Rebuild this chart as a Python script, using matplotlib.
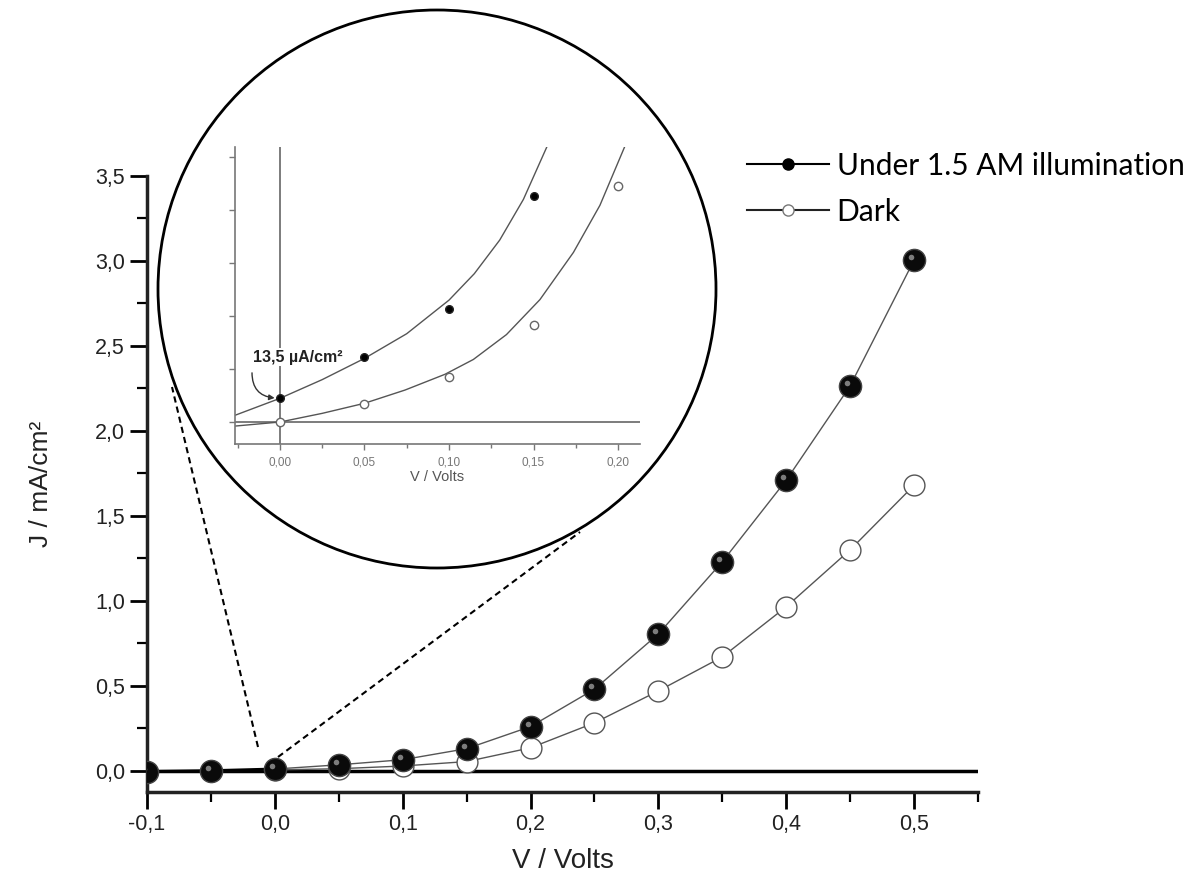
import numpy as np
import matplotlib
matplotlib.use("Agg")
import matplotlib.pyplot as plt
from matplotlib.patches import Ellipse
from matplotlib.lines import Line2D
from matplotlib.transforms import offset_copy

# main J-V data (mA/cm2)
V = [-0.10, -0.05, 0.00, 0.05, 0.10, 0.15, 0.20, 0.25, 0.30, 0.35, 0.40, 0.45, 0.50]
J_light = [-0.005, 0.0, 0.01, 0.035, 0.065, 0.13, 0.26, 0.48, 0.805, 1.23, 1.71, 2.265, 3.005]
J_dark = [-0.005, 0.0, 0.005, 0.012, 0.028, 0.054, 0.135, 0.282, 0.47, 0.67, 0.965, 1.30, 1.68]

x_ticks = [-0.1, 0.0, 0.1, 0.2, 0.3, 0.4, 0.5]
x_ticklabels = ["-0,1", "0,0", "0,1", "0,2", "0,3", "0,4", "0,5"]
y_ticks = [0.0, 0.5, 1.0, 1.5, 2.0, 2.5, 3.0, 3.5]
y_ticklabels = ["0,0", "0,5", "1,0", "1,5", "2,0", "2,5", "3,0", "3,5"]

# zoomed inset: points and fitted curves
V_in_light = [0.00, 0.05, 0.10, 0.15]
J_in_light = [0.0135, 0.0368, 0.0641, 0.128]
V_in_dark = [0.00, 0.05, 0.10, 0.15, 0.20]
J_in_dark = [0.0, 0.0102, 0.0253, 0.0549, 0.1338]

fit_light_V = [-0.0266, 0.0, 0.025, 0.05, 0.075, 0.10, 0.115, 0.130, 0.144, 0.158]
fit_light_J = [0.0038, 0.0134, 0.0240, 0.0360, 0.0500, 0.0690, 0.0840, 0.1030, 0.1260, 0.156]
fit_dark_V = [-0.0266, 0.0, 0.025, 0.05, 0.074, 0.0976, 0.1144, 0.134, 0.1538, 0.1736, 0.1893, 0.204]
fit_dark_J = [-0.0023, 0.0, 0.0049, 0.0106, 0.0181, 0.027, 0.0354, 0.0495, 0.0693, 0.096, 0.1227, 0.156]

in_x_ticks = [0.00, 0.05, 0.10, 0.15, 0.20]
in_x_ticklabels = ["0,00", "0,05", "0,10", "0,15", "0,20"]

W, H = 1196, 884
fig = plt.figure(figsize=(W / 100, H / 100), dpi=100)

def fx(px):
    return px / W

def fy(py):
    return 1 - py / H

# ---- main axes ----
ax = fig.add_axes([fx(147), fy(792), fx(978) - fx(147), fy(176) - fy(792)])
ax.set_xlim(-0.1, 0.55)
ax.set_ylim(-0.125, 3.5)
ax.axhline(0, color="black", lw=2.5, zorder=1)

ax.plot(V, J_dark, color="#555555", lw=1.0, zorder=2)
ax.plot(V, J_light, color="#555555", lw=1.0, zorder=2)
ax.plot(V[:3], J_light[:3], color="black", lw=2.2, zorder=2)

ax.plot(V, J_dark, ls="none", marker="o", ms=15, mfc="white", mec="#555555", mew=1.0, zorder=3)
ax.plot(V, J_light, ls="none", marker="o", ms=16, mfc="#0a0a0a", mec="#444444", mew=1.0, zorder=4)
hl = offset_copy(ax.transData, fig=fig, x=-3, y=3, units="dots")
ax.plot(V, J_light, ls="none", marker="o", ms=4, mfc="#9a9a9a", mec="none", alpha=0.8,
        transform=hl, zorder=5)

for s in ["top", "right"]:
    ax.spines[s].set_visible(False)
for s in ["left", "bottom"]:
    ax.spines[s].set_linewidth(2.5)
    ax.spines[s].set_color("#222222")

ax.set_xticks(x_ticks)
ax.set_xticklabels(x_ticklabels)
ax.set_xticks(np.arange(-0.1, 0.551, 0.05), minor=True)
ax.set_yticks(y_ticks)
ax.set_yticklabels(y_ticklabels)
ax.set_yticks(np.arange(0, 3.51, 0.25), minor=True)
ax.tick_params(which="major", direction="out", length=12, width=2, labelsize=15.5, pad=4)
ax.tick_params(which="minor", direction="out", length=7, width=1.6)
for lab in ax.get_xticklabels() + ax.get_yticklabels():
    lab.set_fontfamily("Liberation Sans")
    lab.set_color("#222222")

ax.set_xlabel("V / Volts", fontsize=20, family="Liberation Sans", color="#222222", labelpad=9)
ax.set_ylabel("J / mA/cm²", fontsize=19, family="Liberation Sans", color="#222222", labelpad=30)

# ---- magnifier circle and dashed guides ----
r = 279
circ = Ellipse((fx(437), fy(289)), 2 * r / W, 2 * r / H, transform=fig.transFigure,
               facecolor="white", edgecolor="black", lw=2.0, zorder=2)
fig.add_artist(circ)
for (x0, y0), (x1, y1) in [((258, 747), (172, 387)), ((278, 757), (580, 532))]:
    fig.add_artist(Line2D([fx(x0), fx(x1)], [fy(y0), fy(y1)], transform=fig.transFigure,
                          color="black", lw=1.5, ls=(0, (3, 2)), zorder=1.5))

# ---- inset ----
ax_in = fig.add_axes([fx(235), fy(444), fx(640) - fx(235), fy(147) - fy(444)], zorder=3)
ax_in.set_facecolor("none")
ax_in.set_xlim(-0.0266, 0.213)
ax_in.set_ylim(-0.01245, 0.1557)
ax_in.axhline(0, color="#666666", lw=1.2)
ax_in.axvline(0, color="#666666", lw=1.2)
ax_in.plot(fit_light_V, fit_light_J, color="#555555", lw=1.0)
ax_in.plot(fit_dark_V, fit_dark_J, color="#555555", lw=1.0)
ax_in.plot(V_in_light, J_in_light, ls="none", marker="o", ms=5.5, mfc="black", mec="#222222")
ax_in.plot(V_in_dark, J_in_dark, ls="none", marker="o", ms=6, mfc="white", mec="#666666", mew=1.0)

for s in ["top", "right"]:
    ax_in.spines[s].set_visible(False)
for s in ["left", "bottom"]:
    ax_in.spines[s].set_color("#777777")
    ax_in.spines[s].set_linewidth(1.2)
ax_in.set_xticks(in_x_ticks)
ax_in.set_xticklabels(in_x_ticklabels)
ax_in.set_xticks(np.arange(-0.025, 0.213, 0.025), minor=True)
ax_in.set_yticks(np.arange(0.0, 0.156, 0.03))
ax_in.set_yticklabels([])
ax_in.tick_params(which="both", direction="out", color="#777777", labelcolor="#777777",
                  labelsize=8.5, pad=5)
ax_in.tick_params(which="major", length=4, width=1)
ax_in.tick_params(which="minor", length=3, width=1)
for lab in ax_in.get_xticklabels():
    lab.set_fontfamily("Liberation Sans")
ax_in.set_xlabel("V / Volts", fontsize=10.5, family="Liberation Sans", color="#555555", labelpad=1)

ax_in.text(0.0105, 0.0368, "13,5 µA/cm²", fontsize=11.5, fontweight="bold", ha="center",
           va="center", family="Liberation Sans", color="#222222",
           bbox=dict(facecolor="white", edgecolor="none", pad=1))
ax_in.annotate("", xy=(-0.0015, 0.0135), xytext=(-0.0165, 0.0294),
               arrowprops=dict(arrowstyle="-|>", connectionstyle="arc3,rad=0.5",
                               color="#333333", lw=1.0, mutation_scale=8))

# ---- legend ----
handles = [
    Line2D([], [], color="black", lw=1.5, marker="o", ms=8, mfc="black", mec="black"),
    Line2D([], [], color="#222222", lw=1.5, marker="o", ms=8, mfc="white", mec="#777777"),
]
fig.legend(handles, ["Under 1.5 AM illumination", "Dark"], loc="upper left",
           bbox_to_anchor=(fx(735), fy(140)), frameon=False, handlelength=2.75,
           handletextpad=0.25, labelspacing=0.6, borderaxespad=0,
           prop={"family": "Lato", "size": 21.5})

plt.savefig("out.png", dpi=100)
